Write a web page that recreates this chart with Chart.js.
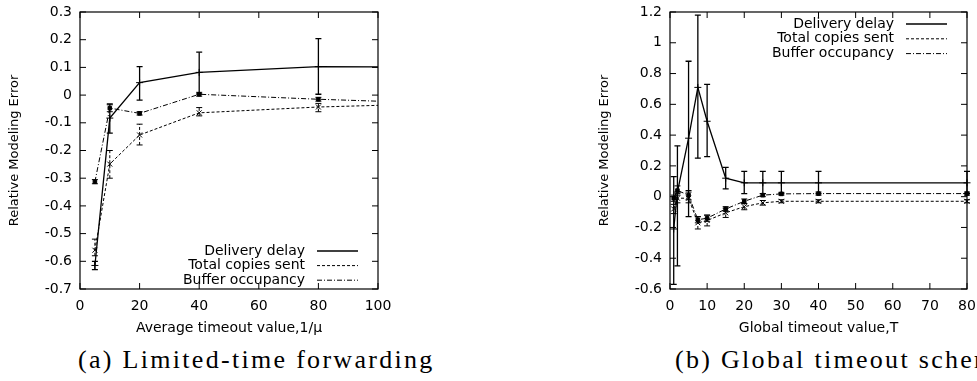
<!DOCTYPE html>
<html>
<head>
<meta charset="utf-8">
<script src="https://cdn.jsdelivr.net/npm/chart.js@4.4.0/dist/chart.umd.min.js"></script>
<style>
  html, body { margin: 0; padding: 0; background: #fff; overflow: hidden; }
  body { width: 977px; height: 381px; position: relative; }
  .plot { position: absolute; top: 0; width: 400px; height: 340px; }
  .caption { position: absolute; top: 344px; font-family: "Liberation Serif", "DejaVu Serif", serif; font-size: 26px; letter-spacing: 2.3px; line-height: 32px; white-space: nowrap; color: #000; }
</style>
</head>
<body>
<div class="plot" style="left:0"><canvas id="chartA"></canvas></div>
<div class="plot" style="left:590px"><canvas id="chartB"></canvas></div>
<div class="caption" style="left:78px">(a) Limited-time forwarding</div>
<div class="caption" style="left:675px">(b) Global timeout scheme</div>
<script>
const seriesLabels = ['Delivery delay', 'Total copies sent', 'Buffer occupancy'];

// (a) Limited-time forwarding
const xA = [5, 10, 20, 40, 80, 100];
const delayA = [-0.615, -0.083, 0.045, 0.082, 0.103, 0.102];
const delayLoA = [-0.63, -0.137, -0.018, 0.004, 0.003, 0.102];
const delayHiA = [-0.60, -0.032, 0.103, 0.155, 0.204, 0.102];
const copiesA = [-0.56, -0.249, -0.144, -0.064, -0.043, -0.037];
const copiesLoA = [-0.58, -0.30, -0.18, -0.075, -0.06, -0.037];
const copiesHiA = [-0.52, -0.20, -0.105, -0.045, -0.03, -0.037];
const bufferA = [-0.313, -0.047, -0.066, 0.003, -0.015, -0.022];
const bufferLoA = [-0.32, -0.06, -0.072, -0.004, -0.022, -0.022];
const bufferHiA = [-0.305, -0.035, -0.06, 0.01, -0.008, -0.022];

// (b) Global timeout scheme
const xB = [1, 2, 5, 7.5, 10, 15, 20, 25, 30, 40, 80];
const delayB = [-0.21, 0.03, 0.38, 0.71, 0.49, 0.12, 0.09, 0.09, 0.09, 0.09, 0.09];
const delayLoB = [-0.57, -0.45, -0.13, 0.25, 0.26, 0.05, 0.02, 0.02, 0.02, 0.02, 0.02];
const delayHiB = [0.13, 0.33, 0.88, 1.18, 0.73, 0.19, 0.165, 0.165, 0.165, 0.165, 0.165];
const copiesB = [-0.08, -0.01, -0.01, -0.17, -0.155, -0.105, -0.065, -0.04, -0.03, -0.03, -0.03];
const copiesLoB = [-0.11, -0.04, -0.04, -0.21, -0.19, -0.135, -0.085, -0.055, -0.04, -0.04, -0.04];
const copiesHiB = [-0.05, 0.02, 0.03, -0.13, -0.12, -0.075, -0.045, -0.025, -0.02, -0.02, -0.02];
const bufferB = [-0.01, 0.04, 0.01, -0.15, -0.14, -0.08, -0.03, 0.01, 0.018, 0.02, 0.02];
const bufferLoB = [-0.03, 0.01, -0.02, -0.17, -0.16, -0.095, -0.045, 0.0, 0.01, 0.01, 0.01];
const bufferHiB = [0.01, 0.07, 0.04, -0.13, -0.12, -0.065, -0.015, 0.02, 0.028, 0.03, 0.03];

const FAMILY = '"DejaVu Sans", "Liberation Sans", Arial, sans-serif';
const FONT = { family: FAMILY, size: 14 };
Chart.defaults.font.family = FAMILY;
Chart.defaults.font.size = 14;
Chart.defaults.color = '#000';

// gnuplot style: box border with inward ticks on all four sides
const frameTicks = {
    id: 'frameTicks',
    afterDatasetsDraw(chart) {
        const { ctx, chartArea: a, scales: { x, y } } = chart;
        ctx.save();
        ctx.strokeStyle = '#000';
        ctx.lineWidth = 1.2;
        ctx.setLineDash([]);
        ctx.strokeRect(a.left, a.top, a.right - a.left, a.bottom - a.top);
        ctx.lineWidth = 1;
        ctx.beginPath();
        x.ticks.forEach(t => {
            const px = x.getPixelForValue(t.value);
            ctx.moveTo(px, a.bottom); ctx.lineTo(px, a.bottom - 6);
            ctx.moveTo(px, a.top); ctx.lineTo(px, a.top + 6);
        });
        y.ticks.forEach(t => {
            const py = y.getPixelForValue(t.value);
            ctx.moveTo(a.left, py); ctx.lineTo(a.left + 6, py);
            ctx.moveTo(a.right, py); ctx.lineTo(a.right - 6, py);
        });
        ctx.stroke();
        ctx.restore();
    }
};

// vertical error bars with small caps
const errorBars = {
    id: 'errorBars',
    afterDatasetsDraw(chart) {
        const { ctx, scales: { y } } = chart;
        ctx.save();
        ctx.strokeStyle = '#000';
        chart.data.datasets.forEach((ds, i) => {
            const meta = chart.getDatasetMeta(i);
            ctx.lineWidth = ds.borderWidth;
            meta.data.forEach((pt, j) => {
                const lo = y.getPixelForValue(ds.errLo[j]);
                const hi = y.getPixelForValue(ds.errHi[j]);
                if (Math.abs(lo - hi) < 1) return;
                ctx.setLineDash(ds.borderDash);
                ctx.beginPath();
                ctx.moveTo(pt.x, lo); ctx.lineTo(pt.x, hi);
                ctx.stroke();
                ctx.setLineDash([]);
                ctx.beginPath();
                ctx.moveTo(pt.x - 3, lo); ctx.lineTo(pt.x + 3, lo);
                ctx.moveTo(pt.x - 3, hi); ctx.lineTo(pt.x + 3, hi);
                ctx.stroke();
            });
        });
        ctx.restore();
    }
};

// legend inside the plot: right aligned text then a line sample
const gpLegend = {
    id: 'gpLegend',
    afterDraw(chart, args, opts) {
        const { ctx, chartArea: a } = chart;
        ctx.save();
        ctx.font = '14px ' + FAMILY;
        ctx.textAlign = 'right';
        ctx.textBaseline = 'middle';
        ctx.fillStyle = '#000';
        ctx.strokeStyle = '#000';
        chart.data.datasets.forEach((ds, i) => {
            const yy = opts.anchor === 'top' ? a.top + 12 + i * 14.8 : a.bottom - 38 + i * 14.6;
            ctx.fillText(ds.label, a.right - 73, yy);
            ctx.lineWidth = ds.borderWidth;
            ctx.setLineDash(ds.borderDash);
            ctx.beginPath();
            ctx.moveTo(a.right - 61, yy);
            ctx.lineTo(a.right - 20, yy);
            ctx.stroke();
        });
        ctx.restore();
    }
};

const seriesStyles = [
    { borderDash: [], pointStyle: 'cross', pointRadius: 3.5, borderWidth: 1.3 },
    { borderDash: [3, 2], pointStyle: 'crossRot', pointRadius: 3.5, borderWidth: 1 },
    { borderDash: [5, 2, 1, 2], pointStyle: 'rect', pointRadius: 2.5, borderWidth: 1 }
];

function buildChart(id, xs, series, xr, yr, xTitle, legendAnchor, padRight, hideLast) {
    const datasets = series.map((s, i) => ({
        label: seriesLabels[i],
        data: xs.map((x, j) => ({ x: x, y: s[0][j] })),
        errLo: s[1],
        errHi: s[2],
        borderColor: '#000',
        backgroundColor: '#000',
        pointBorderColor: '#000',
        pointBackgroundColor: '#000',
        pointBorderWidth: 1,
        borderDash: seriesStyles[i].borderDash,
        borderWidth: seriesStyles[i].borderWidth,
        pointStyle: seriesStyles[i].pointStyle,
        pointRadius: xs.map((x, j) => (hideLast && j === xs.length - 1) ? 0 : seriesStyles[i].pointRadius),
        tension: 0,
        fill: false,
        clip: false
    }));

    return new Chart(document.getElementById(id), {
        type: 'line',
        data: { datasets },
        options: {
            responsive: true,
            maintainAspectRatio: false,
            animation: false,
            layout: { padding: { top: 12, right: padRight, bottom: 0, left: 0 } },
            plugins: {
                legend: { display: false },
                tooltip: { enabled: false },
                gpLegend: { anchor: legendAnchor }
            },
            scales: {
                x: {
                    type: 'linear',
                    min: xr[0], max: xr[1],
                    ticks: { stepSize: xr[2], padding: 9, maxRotation: 0, color: '#000', font: FONT },
                    grid: { display: false, drawTicks: false },
                    border: { display: false },
                    title: { display: true, text: xTitle, color: '#000', font: FONT, padding: { top: 0, bottom: 3 } },
                    afterFit: s => { s.height = 51; s.paddingLeft = 0; s.paddingRight = 0; }
                },
                y: {
                    min: yr[0], max: yr[1],
                    ticks: {
                        stepSize: yr[2], padding: 8, color: '#000', font: FONT,
                        callback: v => String(Math.round(v * 10) / 10)
                    },
                    grid: { display: false, drawTicks: false },
                    border: { display: false },
                    title: { display: true, text: 'Relative Modeling Error', color: '#000', font: { family: FAMILY, size: 13 }, padding: { top: 7, bottom: 0 } },
                    afterFit: s => { s.width = 80; s.paddingTop = 0; s.paddingBottom = 0; }
                }
            }
        },
        plugins: [frameTicks, errorBars, gpLegend]
    });
}

buildChart('chartA', xA, [
    [delayA, delayLoA, delayHiA],
    [copiesA, copiesLoA, copiesHiA],
    [bufferA, bufferLoA, bufferHiA]
], [0, 100, 20], [-0.7, 0.3, 0.1], 'Average timeout value,1/\u03bc', 'bottom', 22, true);

buildChart('chartB', xB, [
    [delayB, delayLoB, delayHiB],
    [copiesB, copiesLoB, copiesHiB],
    [bufferB, bufferLoB, bufferHiB]
], [0, 80, 10], [-0.6, 1.2, 0.2], 'Global timeout value,T', 'top', 23, false);
</script>
</body>
</html>
